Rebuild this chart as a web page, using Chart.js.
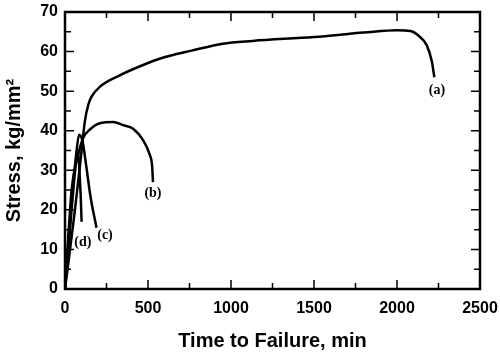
<!DOCTYPE html>
<html>
<head>
<meta charset="utf-8">
<script src="https://cdn.jsdelivr.net/npm/chart.js@4"></script>
<style>
  html, body { margin: 0; padding: 0; background: #fff; }
  #wrap { width: 500px; height: 353px; }
</style>
</head>
<body>
<div id="wrap"><canvas id="chart" width="500" height="353"></canvas></div>
<script>
// --- Data (time in min, stress in kg/mm2) ---
const curveA = [[0,0],[60,20],[100,35],[120,42.5],[140,46.5],[160,48.6],[210,51.1],[330,54],[470,56.6],[570,58.2],[770,60.3],[950,62],[1130,62.7],[1500,63.7],[1800,64.8],[2000,65.4],[2080,65.2],[2130,64],[2180,61.5],[2210,57.5],[2225,53.5]];
const curveB = [[0,0],[40,25],[80,34],[110,38.2],[150,40.3],[210,41.9],[290,42.2],[350,41.4],[410,40.5],[470,37.6],[510,34],[525,31],[530,27]];
const curveC = [[0,0],[40,22],[70,35],[85,39],[105,37.5],[125,32],[155,23],[190,15.5]];
const curveD = [[0,0],[20,10],[50,25],[70,33],[80,34.5],[88,29],[95,23],[100,17]];

const curveNames = ['(a)', '(b)', '(c)', '(d)'];
const nameX = [2241, 530, 241, 108];
const nameY = [50.3, 24.2, 13.6, 11.9];

const xTicks = [0, 500, 1000, 1500, 2000, 2500];
const yTicks = [0, 10, 20, 30, 40, 50, 60, 70];

function toPoints(arr) {
    return arr.map(p => ({ x: p[0], y: p[1] }));
}

function lineSet(arr) {
    return {
        data: toPoints(arr),
        showLine: true,
        borderColor: '#000',
        borderWidth: 2.5,
        pointRadius: 0,
        cubicInterpolationMode: 'monotone',
        fill: false
    };
}

// frame + inward ticks + curve labels
const framePlugin = {
    id: 'frame',
    afterDatasetsDraw(chart) {
        const ctx = chart.ctx;
        const xs = chart.scales.x, ys = chart.scales.y;
        const a = chart.chartArea;
        ctx.save();
        ctx.strokeStyle = '#000';
        ctx.lineWidth = 2.5;
        ctx.strokeRect(a.left, a.top, a.right - a.left, a.bottom - a.top);

        ctx.lineWidth = 1.5;
        ctx.beginPath();
        for (let v = 250; v < 2500; v += 250) {
            const px = xs.getPixelForValue(v);
            const len = v % 500 === 0 ? 9 : 6;
            ctx.moveTo(px, a.bottom); ctx.lineTo(px, a.bottom - len);
            ctx.moveTo(px, a.top); ctx.lineTo(px, a.top + len);
        }
        for (let v = 5; v < 70; v += 5) {
            const py = ys.getPixelForValue(v);
            const len = v % 10 === 0 ? 9 : 6;
            ctx.moveTo(a.left, py); ctx.lineTo(a.left + len, py);
            ctx.moveTo(a.right, py); ctx.lineTo(a.right - len, py);
        }
        ctx.stroke();

        ctx.fillStyle = '#000';
        ctx.font = 'bold 14px "Liberation Serif", serif';
        ctx.textAlign = 'center';
        ctx.textBaseline = 'middle';
        curveNames.forEach((t, i) => {
            ctx.fillText(t, xs.getPixelForValue(nameX[i]), ys.getPixelForValue(nameY[i]));
        });
        ctx.restore();
    }
};

const tickFont = { family: '"Liberation Sans", Arial, sans-serif', size: 16, weight: 'bold' };
const titleFont = { family: '"Liberation Sans", Arial, sans-serif', size: 20, weight: 'bold' };

new Chart(document.getElementById('chart').getContext('2d'), {
    type: 'scatter',
    data: { datasets: [lineSet(curveA), lineSet(curveB), lineSet(curveC), lineSet(curveD)] },
    options: {
        responsive: false,
        animation: false,
        layout: { padding: { left: 0, right: 20, top: 12, bottom: 0 } },
        plugins: { legend: { display: false }, tooltip: { enabled: false } },
        scales: {
            x: {
                type: 'linear',
                min: 0, max: 2500,
                afterBuildTicks: s => { s.ticks = xTicks.map(v => ({ value: v })); },
                afterFit: s => { s.height = 64; s.paddingLeft = 0; s.paddingRight = 0; },
                grid: { display: false, drawTicks: false },
                border: { display: false },
                ticks: { color: '#000', font: tickFont, padding: 10, maxRotation: 0, callback: v => String(v) },
                title: { display: true, text: 'Time to Failure, min', color: '#000', font: titleFont, padding: { top: 0, bottom: 0 } }
            },
            y: {
                type: 'linear',
                min: 0, max: 70,
                afterBuildTicks: s => { s.ticks = yTicks.map(v => ({ value: v })); },
                afterFit: s => { s.width = 65; s.paddingTop = 0; s.paddingBottom = 0; },
                grid: { display: false, drawTicks: false },
                border: { display: false },
                ticks: { color: '#000', font: tickFont, padding: 7, callback: v => String(v) },
                title: { display: true, text: 'Stress, kg/mm²', color: '#000', font: titleFont, padding: { top: 2, bottom: 0 } }
            }
        }
    },
    plugins: [framePlugin]
});
</script>
</body>
</html>
